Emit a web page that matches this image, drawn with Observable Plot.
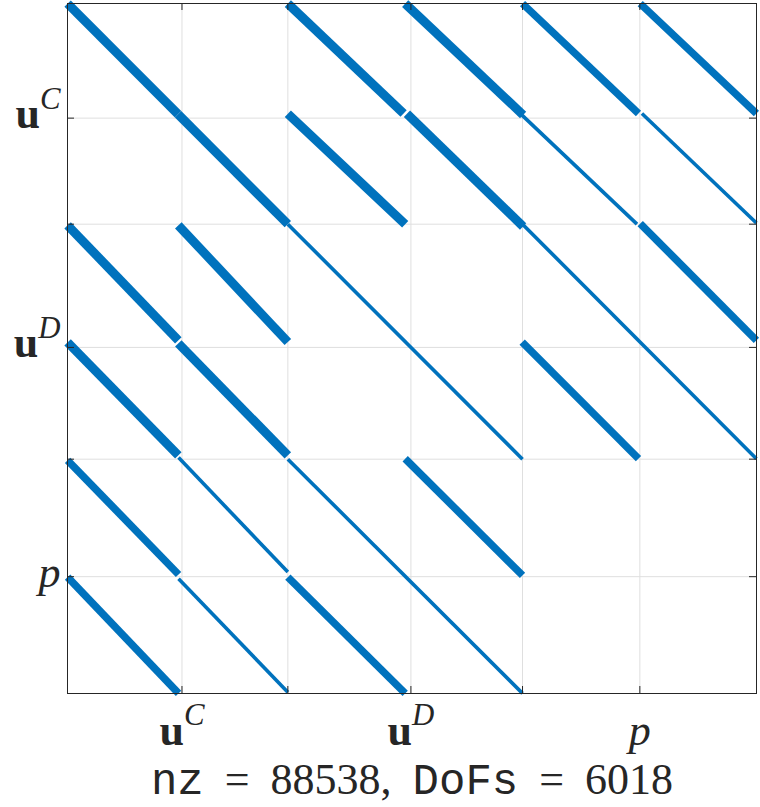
<!DOCTYPE html>
<html><head><meta charset="utf-8">
<script src="https://cdn.jsdelivr.net/npm/d3@7"></script>
<script src="https://cdn.jsdelivr.net/npm/@observablehq/plot@0.6"></script>
<style>
body{margin:0;background:#fff;}
#chart svg{display:block;}
</style></head>
<body><div id="chart"></div>
<script>
// ---- data (DoF indices) ----
const nDofs = 6018;
const nnz = 88538;
const tickPositions = [1000, 1925, 3000, 3975, 5000];
const xTickLabels = ["u^C", "", "u^D", "", "p"];
const yTickLabels = ["u^C", "", "u^D", "", "p"];
// nonzero bands: [colStart, rowStart, colEnd, rowEnd]
const denseBands = [
  [1, 1, 966, 966],
  [966, 966, 1925, 1925],
  [1925, 1, 2936, 960],
  [2950, 1, 3980, 972],
  [1925, 962, 2950, 1925],
  [2965, 962, 3980, 1945],
  [1, 1935, 968, 2938],
  [968, 1935, 1925, 2953],
  [1, 2956, 968, 3942],
  [968, 2965, 1925, 3942]
];
const mediumBands = [
  [3975, 1, 4988, 960],
  [5003, 1, 6018, 960],
  [5003, 1920, 6018, 2938],
  [3972, 2953, 4988, 3971],
  [1, 3985, 970, 4981],
  [1, 5004, 970, 6018],
  [2950, 3971, 3975, 4989],
  [1925, 5004, 2950, 6018]
];
const sparseBands = [
  [1925, 1925, 3975, 3975],
  [3975, 1925, 6018, 3971],
  [1925, 3975, 3975, 6018],
  [3945, 950, 4975, 1925],
  [5018, 960, 6018, 1915],
  [970, 3960, 1925, 4960],
  [970, 5018, 1925, 6008]
];
const caption = `nz = ${nnz}, DoFs = ${nDofs}`;

// ---- layout / style ----
const W = 760, H = 807, mL = 67, mR = 4, mT = 3, mB = 114;
const innerW = W - mL - mR, innerH = H - mT - mB;
const tickLen = 7;
const blue = "#0072BD", ink = "#262626", gridc = "#dfdfdf";
const serif = "'Liberation Serif', 'DejaVu Serif', serif";
const mono = "'Liberation Mono', 'DejaVu Sans Mono', monospace";
const seg = {x1: d => d[0], y1: d => d[1], x2: d => d[2], y2: d => d[3], stroke: blue, strokeLinecap: "butt"};
const ticks = tickPositions.map((p, i) => ({p, xl: xTickLabels[i], yl: yTickLabels[i]}));

const svg = Plot.plot({
  width: W, height: H,
  marginLeft: mL, marginRight: mR, marginTop: mT, marginBottom: mB,
  x: {domain: [0, nDofs + 1], axis: null},
  y: {domain: [0, nDofs + 1], reverse: true, axis: null},
  style: {background: "white"},
  marks: [
    Plot.ruleX(tickPositions, {x: d => d, stroke: gridc, strokeWidth: 1}),
    Plot.ruleY(tickPositions, {y: d => d, stroke: gridc, strokeWidth: 1}),
    Plot.link(sparseBands, {...seg, strokeWidth: 3.6}),
    Plot.link(mediumBands, {...seg, strokeWidth: 7.5}),
    Plot.link(denseBands, {...seg, strokeWidth: 9}),
    Plot.frame({stroke: ink, strokeWidth: 1}),
    Plot.ruleX(tickPositions, {x: d => d, insetTop: innerH - tickLen, stroke: ink}),
    Plot.ruleX(tickPositions, {x: d => d, insetBottom: innerH - tickLen, stroke: ink}),
    Plot.ruleY(tickPositions, {y: d => d, insetRight: innerW - tickLen, stroke: ink}),
    Plot.ruleY(tickPositions, {y: d => d, insetLeft: innerW - tickLen, stroke: ink}),
    Plot.text(ticks.filter(d => d.xl), {x: "p", text: "xl", frameAnchor: "bottom", lineAnchor: "bottom",
      dy: 51, fontSize: 44, fill: ink, fontFamily: serif}),
    Plot.text(ticks.filter(d => d.yl), {y: "p", text: "yl", frameAnchor: "left", textAnchor: "end", lineAnchor: "bottom",
      dx: -7, dy: 10, fontSize: 44, fill: ink, fontFamily: serif}),
    Plot.text([caption], {text: d => d, frameAnchor: "bottom", lineAnchor: "bottom",
      dy: 100, fontSize: 44, fill: ink, fontFamily: serif})
  ]
});

function mathLabel(el) {
  const s = el.textContent;
  const t = d3.select(el);
  t.text(null);
  const m = /^(\w)\^(\w)$/.exec(s);
  if (m) {
    t.append("tspan").attr("font-family", serif).attr("font-weight", "bold").text(m[1]);
    t.append("tspan").attr("font-family", serif).attr("font-style", "italic")
      .attr("font-size", "0.7em").attr("dy", "-0.62em").text(m[2]);
  } else {
    t.append("tspan").attr("font-family", serif).attr("font-style", "italic").text(s);
  }
}
const labelSet = new Set([...xTickLabels, ...yTickLabels].filter(s => s));
d3.select(svg).selectAll("text").each(function () {
  const s = this.textContent;
  if (labelSet.has(s)) {
    mathLabel(this);
  } else if (s === caption) {
    const t = d3.select(this).style("white-space", "pre");
    t.text(null);
    s.split(/(nz|DoFs)/).filter(p => p).forEach(p => {
      const isTT = p === "nz" || p === "DoFs";
      t.append("tspan").attr("font-family", isTT ? mono : serif)
        .style("word-spacing", isTT ? null : "10px").text(p);
    });
  }
});
document.getElementById("chart").appendChild(svg);
</script>
</body></html>
